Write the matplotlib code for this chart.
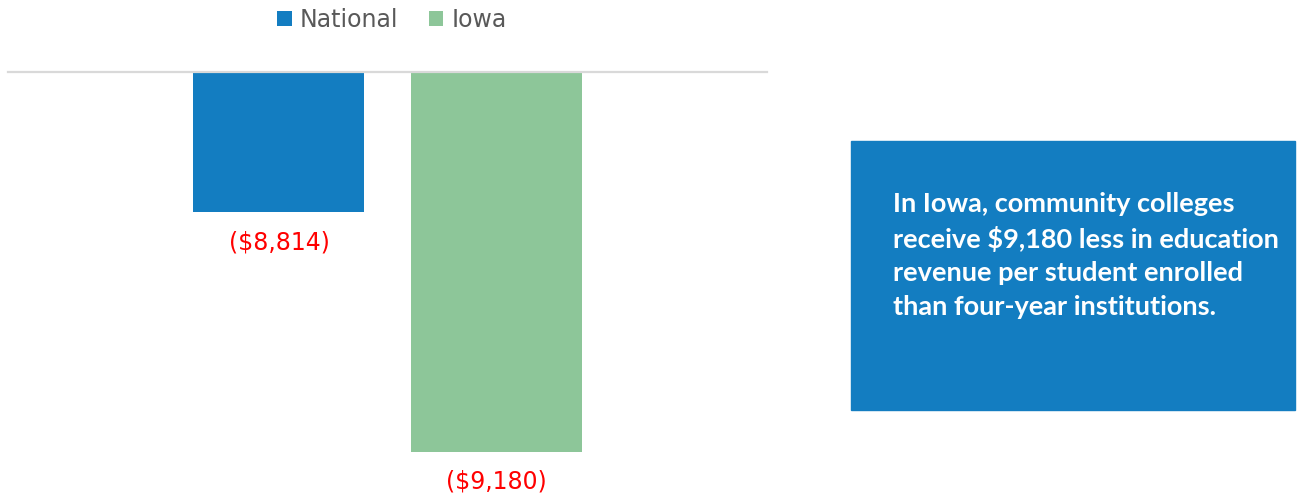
import matplotlib.pyplot as plt
from matplotlib.patches import Rectangle

# dados
series = ['National', 'Iowa']
values = [-8814, -9180]
labels = ['($8,814)', '($9,180)']
colors = ['#137dc1', '#8dc699']
note = ("In Iowa, community colleges\n"
        "receive $9,180 less in education\n"
        "revenue per student enrolled\n"
        "than four-year institutions.")

W, H = 1303, 495
fig = plt.figure(figsize=(W / 100, H / 100), dpi=100)
ax = fig.add_axes([8 / W, 1 - 465 / H, 759 / W, 393 / H])

offsets = [-0.143, 0.143]
bars = []
for off, v, c, s in zip(offsets, values, colors, series):
    b = ax.bar(off, v, width=0.2253, color=c, label=s)
    bars.append(b[0])

ax.set_xlim(-0.5, 0.5)
ax.set_ylim(-9200, -8600)
ax.axhline(-8600, color='#d9d9d9', lw=1.6, clip_on=False)
for sp in ax.spines.values():
    sp.set_visible(False)
ax.set_xticks([])
ax.set_yticks([])

# rótulos abaixo das barras
for off, v, lab in zip(offsets, values, labels):
    ax.annotate(lab, (off, v), xytext=(0, -13), textcoords='offset points',
                ha='center', va='top', color='#ff0000', fontsize=17,
                annotation_clip=False)

fig.legend(handles=bars, labels=series, loc='center',
           bbox_to_anchor=(392 / W, 1 - 20 / H), ncol=2, frameon=False,
           handlelength=0.6, handleheight=0.6, handletextpad=0.35,
           columnspacing=1.3, fontsize=17, labelcolor='#595959')

# caixa de texto
fig.add_artist(Rectangle((851 / W, 1 - 410 / H), 444 / W, 269 / H,
                         transform=fig.transFigure, color='#137dc1'))
fig.text(893 / W, 1 - 192 / H, note, color='white', fontsize=19.5,
         fontweight='bold', family='Lato', va='top', ha='left',
         linespacing=1.46)

fig.savefig('out.png', dpi=100)
